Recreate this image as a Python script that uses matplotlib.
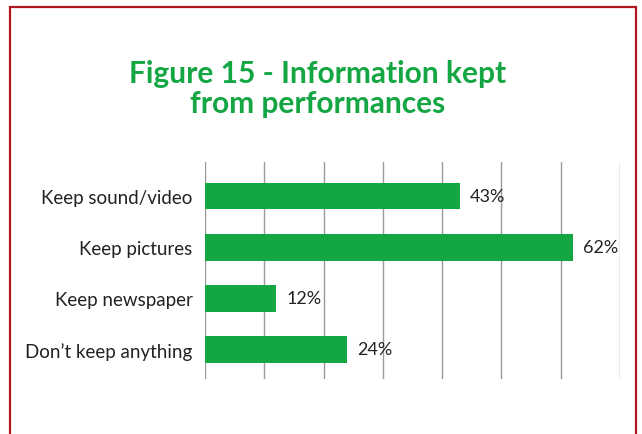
import matplotlib.pyplot as plt
from matplotlib.patches import Rectangle

# Data
categories = ['Keep sound/video', 'Keep pictures', 'Keep newspaper', "Don\u2019t keep anything"]
percentages = [43, 62, 12, 24]

title_lines = ['Figure 15 - Information kept', 'from performances']
green = '#14a643'

fig = plt.figure(figsize=(6.42, 4.35), dpi=100)
W, H = 642, 435

# red page frame (bottom edge runs off the image)
fig.patches.append(Rectangle((9.5 / W, -0.05), 626 / W, 1.05 - 8 / H,
                             transform=fig.transFigure, fill=False,
                             edgecolor='#b0171f', linewidth=1.6))

ax = fig.add_axes([205 / W, 1 - 380 / H, 415 / W, 217 / H])

y_pos = list(range(len(categories)))
ax.barh(y_pos, percentages, height=0.52, color=green, zorder=3)

for y, v in zip(y_pos, percentages):
    ax.text(v + 1.7, y, f'{v}%', va='center', ha='left',
            fontsize=13, family='Lato', color='#222222', zorder=4)

ax.set_xlim(0, 70)
ax.set_ylim(3.58, -0.67)
ax.set_xticks(range(0, 71, 10))
ax.set_xticklabels([])
ax.tick_params(axis='x', length=0)
ax.tick_params(axis='y', length=0, pad=9)
ax.set_yticks(y_pos)
ax.set_yticklabels(categories, fontsize=13.5, family='Lato', color='#222222')
ax.grid(axis='x', color='#999999', linewidth=1.0, zorder=0)
for s in ax.spines.values():
    s.set_visible(False)

# two title lines, baselines at ~83 px and ~113 px from the top
for line, base in zip(title_lines, [83.5, 113.5]):
    fig.text(318 / W, 1 - base / H, line, ha='center', va='baseline',
             fontsize=21.5, fontweight='bold', family='Lato', color=green)

fig.savefig('out.png', dpi=100)
